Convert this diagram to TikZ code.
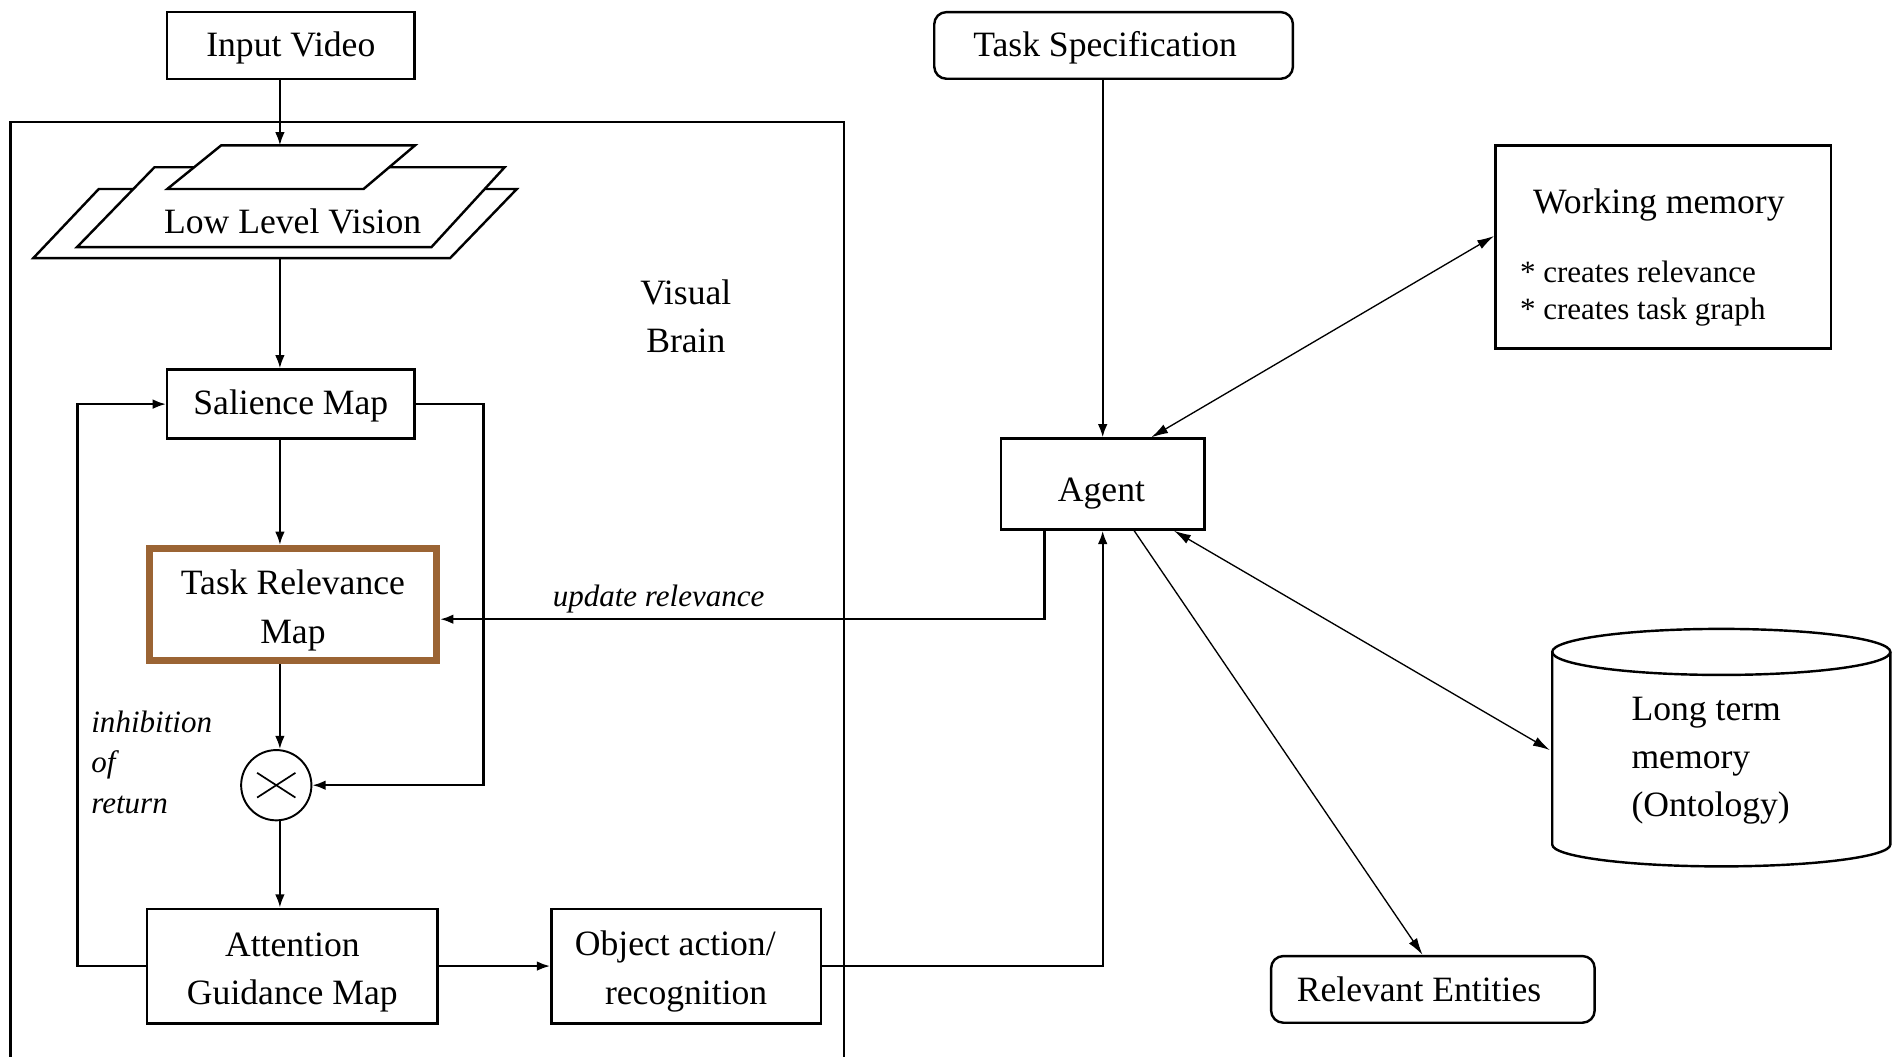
\documentclass[tikz,border=0pt]{standalone}
\usepackage{fontspec}
\setmainfont{Liberation Serif}
\usetikzlibrary{arrows.meta}
\newcommand\diagmain{\fontsize{14.7}{20}\selectfont}
\newcommand\diagsmall{\fontsize{12.8}{16.7}\selectfont}
\newcommand\dstrut[1]{\rule{0pt}{#1}}
\definecolor{trmbrown}{RGB}{155,100,52}
\begin{document}
\begin{tikzpicture}[x=0.5pt,y=-0.5pt,
  box/.style={draw,line width=1pt,inner sep=0pt,align=center,font=\diagmain},
  rbox/.style={box,rounded corners=5pt},
  txt/.style={inner sep=0pt,font=\diagmain},
  lbl/.style={inner sep=0pt,font=\diagsmall\itshape},
  conn/.style={line width=0.9pt,-{Latex[length=5.5pt,width=4pt]}},
  darr/.style={line width=0.55pt,{Latex[length=7pt,width=4pt]}-{Latex[length=7pt,width=4pt]}},
  sarr/.style={line width=0.55pt,-{Latex[length=7pt,width=4pt]}},
  shapeline/.style={line width=1pt,fill=white}
]
\useasboundingbox (0,0) rectangle (1568,871.5);

% Visual brain enclosure
\draw[line width=1pt] (8.5,880) -- (8.5,100.5) -- (696.5,100.5) -- (696.5,880);
\node[txt,align=center] (vb) at (566,261) {Visual\\Brain};

% Low level vision (stacked planes)
\draw[shapeline] (81.5,156) -- (426.5,156) -- (371.5,213) -- (27.5,213) -- cycle;
\draw[shapeline] (127.5,138) -- (416.5,138) -- (356,204) -- (63.5,204) -- cycle;
\draw[shapeline] (182.5,120) -- (342.5,120) -- (300,156) -- (138,156) -- cycle;
\node[txt] (llv) at (241.5,183) {Low Level Vision};
\coordinate (llvtop) at (231,120);
\coordinate (llvbot) at (231,213);
\coordinate (x231) at (231,0);

% Boxes
\node[box,minimum width=102pt,minimum height=27.5pt] (iv) at (240,37.5) {\dstrut{12pt}Input Video};
\node[rbox,minimum width=148pt,minimum height=27.5pt] (ts) at (919,37.5) {\dstrut{12pt}Task Specification\hspace*{7pt}};
\node[box,minimum width=102pt,minimum height=28.5pt] (sal) at (240,333.5) {\dstrut{12pt}Salience Map};
\node[box,draw=trmbrown,line width=3pt,minimum width=118.5pt,minimum height=46.3pt] (trm) at (241.75,499) {\dstrut{15pt}Task Relevance\\Map};
\node[box,minimum width=84pt,minimum height=37.5pt] (agent) at (910,399.5) {};
\node[txt] (agentt) at (909,407) {Agent};
\node[box,minimum width=138.5pt,minimum height=83.75pt] (wm) at (1372.5,203.75) {};
\node[txt] (wmt) at (1369,169) {Working memory};
\node[inner sep=0pt,font=\fontsize{12.8}{15.3}\selectfont,align=left,anchor=west] (wml) at (1254,242) {* creates relevance\\* creates task graph};
\node[rbox,minimum width=133.5pt,minimum height=27.5pt] (re) at (1182.5,816.5) {Relevant Entities\hspace*{11.5pt}};
\node[box,minimum width=119.75pt,minimum height=47.25pt] (attn) at (241.25,797.25) {\dstrut{15pt}Attention\\Guidance Map};
\node[box,minimum width=111.25pt,minimum height=47.25pt] (obj) at (566.25,797.25) {\dstrut{14.5pt}Object action/\hspace*{9pt}\\recognition};

% Multiplier
\node[circle,draw,line width=0.8pt,minimum size=29pt,inner sep=0pt] (mult) at (228,648) {};
\draw[line width=0.7pt] ([xshift=-7.9pt,yshift=5.1pt]mult.center) -- ([xshift=7.9pt,yshift=-5.1pt]mult.center);
\draw[line width=0.7pt] ([xshift=-7.9pt,yshift=-5.1pt]mult.center) -- ([xshift=7.9pt,yshift=5.1pt]mult.center);

% Long term memory cylinder
\draw[line width=1pt] (1420.5,538) ellipse [x radius=69.75pt,y radius=9.5pt];
\draw[line width=1pt] (1281,538) -- (1281,697) arc[start angle=180,end angle=360,x radius=69.75pt,y radius=9pt] -- (1560,538);
\node[txt,align=left,anchor=west,font=\fontsize{14.7}{19.75}\selectfont] (ltmt) at (1346,628) {Long term\\memory\\(Ontology)};
\coordinate (ltml) at (1279,619);

% Labels
\node[lbl] (ur-l) at (543.5,494) {update relevance};
\node[lbl,align=left,anchor=west,font=\fontsize{12.8}{16.75}\selectfont\itshape] (ior) at (75,629) {inhibition\\of\\return};

% Connectors (left part)
\draw[conn] (iv.south -| x231) -- (llvtop);
\draw[conn] (llvbot) -- (sal.north -| x231);
\draw[conn] (sal.south -| x231) -- (trm.north -| x231);
\draw[conn] (trm.south -| x231) -- (mult.north -| x231);
\draw[conn] (mult.south -| x231) -- (attn.north -| x231);
\coordinate (sr) at (399,648);
\draw[conn] (sal.east) -| (sr) -- (mult.east);
\coordinate (fb) at (64,798);
\draw[conn] (attn.west) -- (attn.west -| fb) |- (sal.west);
\draw[conn] (attn.east) -- (obj.west);

% Connectors (agent)
\draw[conn] (obj.east) -| (agent.south);
\coordinate (ur) at (862,511);
\draw[conn] (agent.south -| ur) -- (ur) -- (ur -| trm.east);
\draw[conn] (ts.south -| agent.north) -- (agent.north);
\draw[darr] ([xshift=20pt]agent.north) -- ([yshift=4.5pt]wm.west);
\draw[darr] ([xshift=29.4pt]agent.south) -- (ltml);
\draw[sarr] ([xshift=13pt]agent.south) -- ([xshift=-4.25pt]re.north);
\end{tikzpicture}
\end{document}
